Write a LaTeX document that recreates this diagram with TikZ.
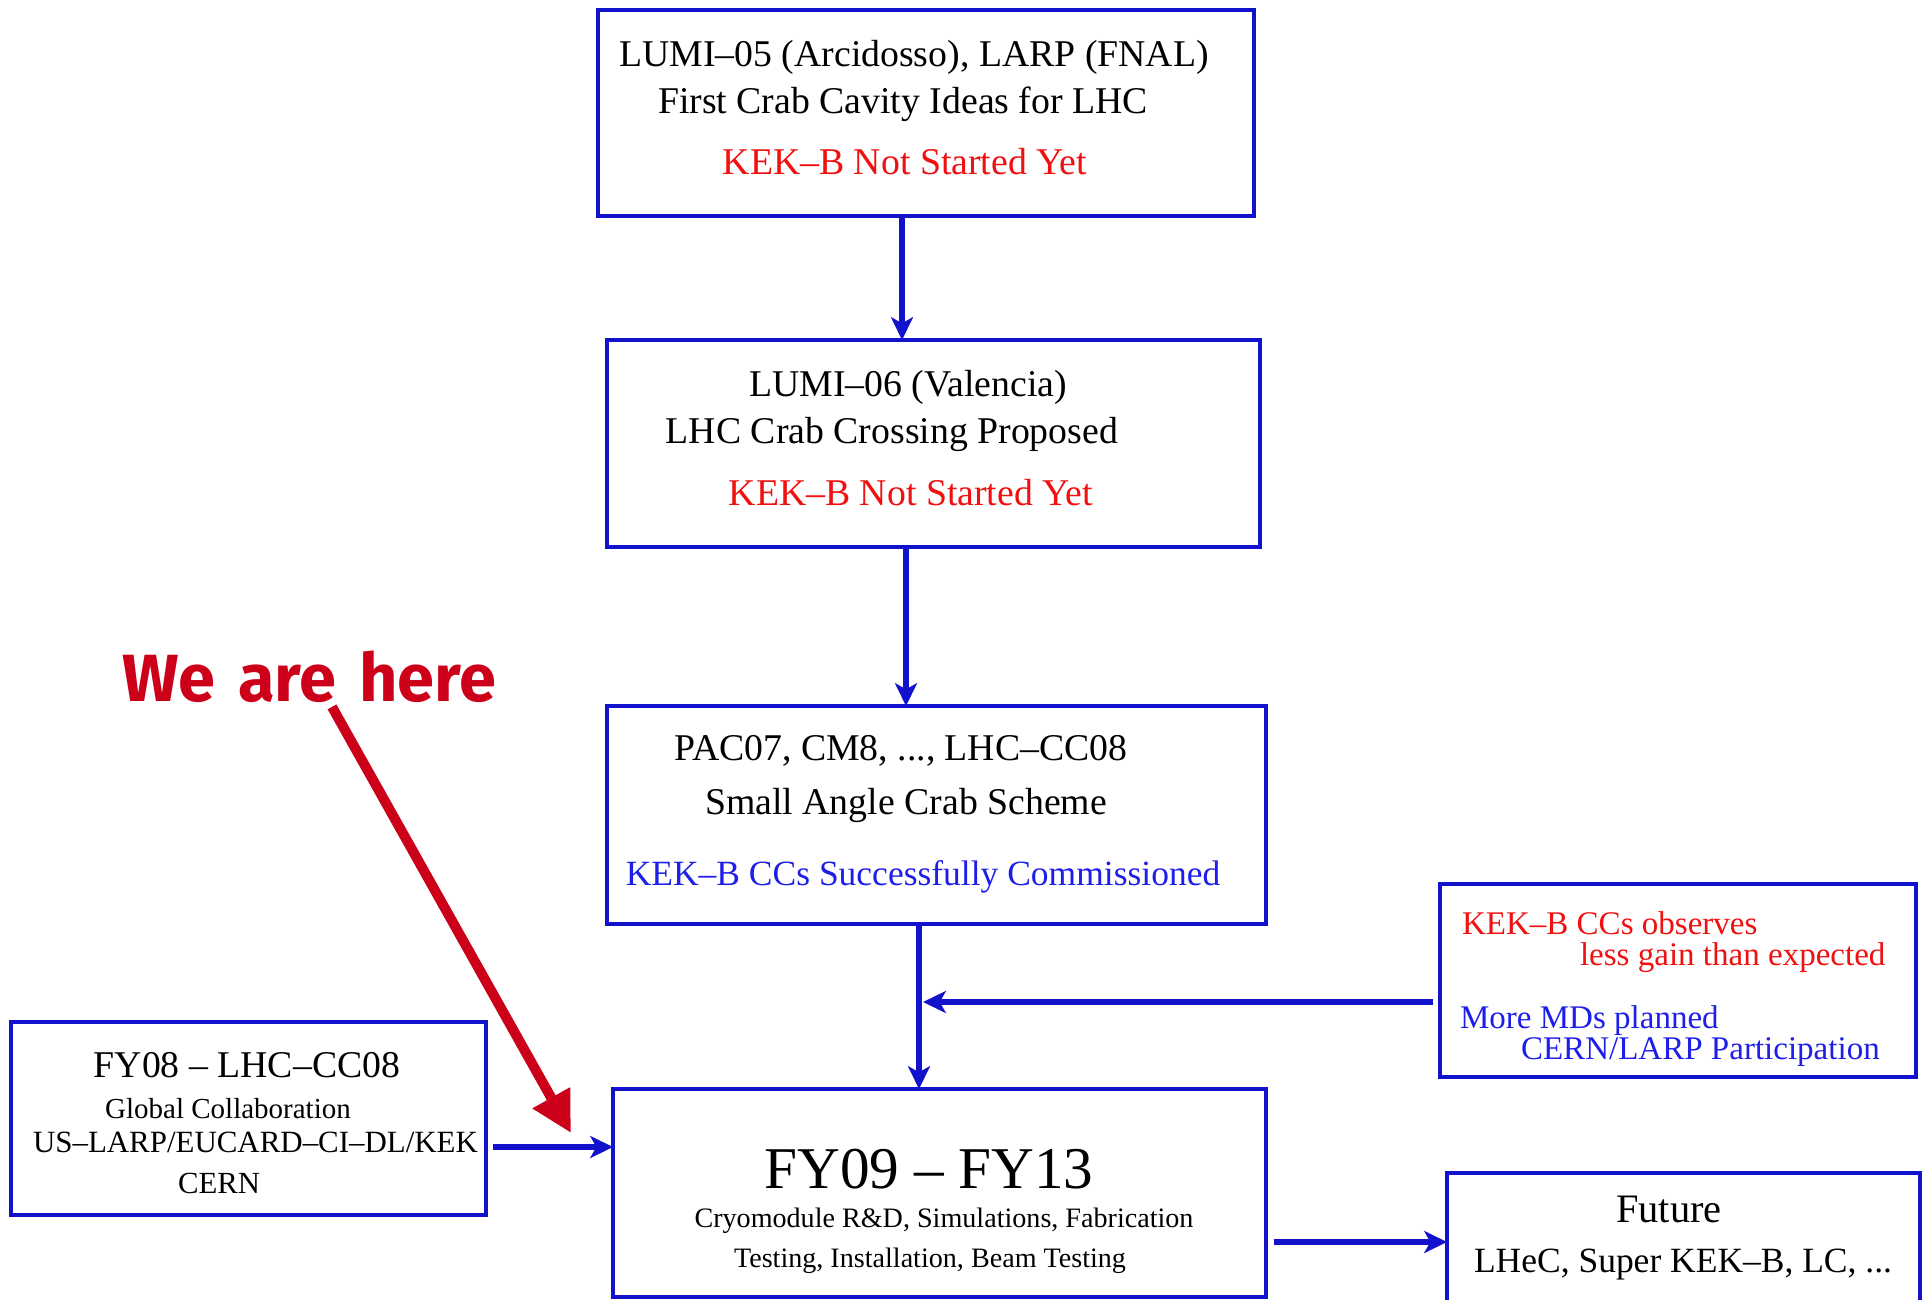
\documentclass[tikz,border=0pt]{standalone}
\usepackage{fontspec}
\setmainfont{Liberation Serif}
\newfontfamily\bannerfont{Fira Sans}
\usetikzlibrary{arrows.meta,calc}

\definecolor{boxblue}{RGB}{18,18,205}
\definecolor{txtred}{RGB}{240,16,16}
\definecolor{txtblue}{RGB}{30,30,235}
\definecolor{herered}{RGB}{204,0,24}

\begin{document}
\begin{tikzpicture}[x=0.02cm,y=-0.02cm,
  frame/.style={draw=boxblue,line width=2.3pt,inner sep=0pt,outer sep=0pt,fill=none},
  lbl/.style={inner sep=0pt,outer sep=0pt,anchor=center,text=black},
  lbll/.style={inner sep=0pt,outer sep=0pt,anchor=west},
  fbig/.style={font=\fontsize{21.5}{24}\selectfont},
  fmid/.style={font=\fontsize{18.8}{22}\selectfont},
  fsmall/.style={font=\fontsize{16}{19}\selectfont},
  flow/.style={draw=boxblue,line width=3.4pt,-{Stealth[length=13pt,width=12.5pt,inset=3.5pt]}},
  herearrow/.style={draw=herered,line width=5.7pt,-{Triangle[length=23pt,width=23pt]}}
]
\useasboundingbox (0,0) rectangle (1926,1299);

% boxes
\node[frame,minimum width=13.12cm,minimum height=4.12cm] (b1) at (926,113) {};
\node[frame,minimum width=13.06cm,minimum height=4.14cm] (b2) at (933.5,443.5) {};
\node[frame,minimum width=13.18cm,minimum height=4.36cm] (b3) at (936.5,815) {};
\node[frame,minimum width=9.52cm,minimum height=3.86cm] (bR) at (1678,980.5) {};
\node[frame,minimum width=9.5cm,minimum height=3.86cm] (b08) at (248.5,1118.5) {};
\node[frame,minimum width=13.06cm,minimum height=4.16cm] (b09) at (939.5,1193) {};
\node[frame,minimum width=9.46cm,minimum height=2.9cm] (bF) at (1683.5,1245.5) {};

% box 1
\node[lbl,fbig] (t1a) at (914,57) {LUMI–05 (Arcidosso), LARP (FNAL)};
\node[lbl,fbig] (t1b) at (903,104) {First Crab Cavity Ideas for LHC};
\node[lbl,fbig,text=txtred] (t1c) at (905,162) {KEK–B Not Started Yet};

% box 2
\node[lbl,fbig] (t2a) at (908,387) {LUMI–06 (Valencia)};
\node[lbl,fbig] (t2b) at (892,434) {LHC Crab Crossing Proposed};
\node[lbl,fbig,text=txtred] (t2c) at (911,493) {KEK–B Not Started Yet};

% box 3
\node[lbl,fbig] (t3a) at (901,751) {PAC07, CM8, ..., LHC–CC08};
\node[lbl,fbig] (t3b) at (906,805) {Small Angle Crab Scheme};
\node[lbl,font=\fontsize{20.2}{23}\selectfont,text=txtblue] (t3c) at (923,877) {KEK–B CCs Successfully Commissioned};

% right box
\node[lbll,fmid,text=txtred] (tRa) at (1462,923) {KEK–B CCs observes};
\node[lbll,fmid,text=txtred] (tRb) at (1580,958) {less gain than expected};
\node[lbll,fmid,text=txtblue] (tRc) at (1460,1021) {More MDs planned};
\node[lbll,fmid,text=txtblue] (tRd) at (1521,1052) {CERN/LARP Participation};

% FY08 box
\node[lbl,fbig] (t8a) at (247,1065) {FY08 – LHC–CC08};
\node[lbl,font=\fontsize{16.5}{19}\selectfont] (t8b) at (228,1109) {Global Collaboration};
\node[lbl,font=\fontsize{17.6}{20}\selectfont] (t8c) at (255.5,1142) {US–LARP/EUCARD–CI–DL/KEK};
\node[lbl,font=\fontsize{17.5}{20}\selectfont] (t8d) at (219,1183) {CERN};

% FY09 box
\node[lbl,font=\fontsize{33.7}{38}\selectfont] (t9a) at (929,1169) {FY09 – FY13};
\node[lbl,fsmall] (t9b) at (944,1221) {Cryomodule R\&D, Simulations, Fabrication};
\node[lbl,fsmall] (t9c) at (930,1261) {Testing, Installation, Beam Testing};

% Future box
\node[lbl,font=\fontsize{23}{26}\selectfont] (tFa) at (1669,1209) {Future};
\node[lbl,font=\fontsize{20.2}{23}\selectfont] (tFb) at (1683,1265) {LHeC, Super KEK–B, LC, ...};

% We are here
\node[inner sep=0pt,outer sep=0pt,text=herered,font=\bannerfont\bfseries\fontsize{38}{42}\selectfont] (here) at (309.5,677) {We\hspace{4pt} are\hspace{4pt} here};

% connectors
\draw[flow] ($(b1.south)+(-24,0)$) coordinate (a1) -- (a1 |- b2.north);
\draw[flow] ($(b2.south)+(-27.5,0)$) coordinate (a2) -- (a2 |- b3.north);
\draw[flow] ($(b3.south)+(-17.5,0)$) coordinate (a3) -- (a3 |- b09.north);
\draw[flow] ($(bR.west)+(-7,21.5)$) coordinate (r0) -- ($(r0 -| a3)+(4,0)$);
\draw[flow] ($(b08.east)+(7,28.5)$) coordinate (l0) -- (l0 -| b09.west);
\draw[flow] ($(b09.east)+(8,49)$) coordinate (f0) -- (f0 -| bF.west);

\coordinate (hs) at ($(here.south)+(22.5,4)$);
\coordinate (ht) at (571,1133);
\draw[herearrow] (hs) -- (ht);
\end{tikzpicture}
\end{document}
